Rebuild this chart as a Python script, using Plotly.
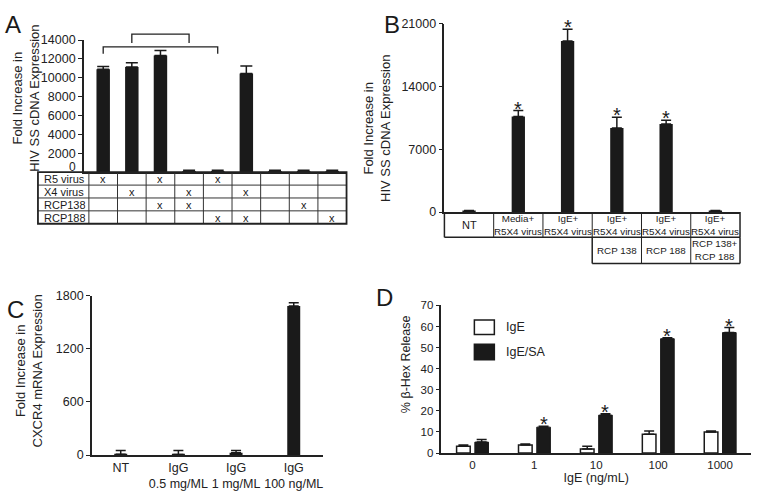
import plotly.graph_objects as go

W, H = 757, 498
FONT = "Liberation Sans"
INK = "#1a1a1a"

# ---------------- data ----------------
# Panel A
a_vals = [10900, 11150, 12350, 40, 40, 10450, 40, 40, 40]
a_err_top = [11200, 11600, 12900, 220, 220, 11250, 220, 220, 220]
a_rows = ["R5 virus", "X4 virus", "RCP138", "RCP188"]
a_marks = [
    [1, 0, 1, 0, 1, 0, 0, 0, 0],
    [0, 1, 0, 1, 0, 1, 0, 0, 0],
    [0, 0, 1, 1, 0, 0, 0, 1, 0],
    [0, 0, 0, 0, 1, 1, 0, 0, 1],
]
a_ticks = [0, 2000, 4000, 6000, 8000, 10000, 12000, 14000]
a_brackets = [(1, 3), (0, 4)]

# Panel B
b_vals = [120, 10650, 19050, 9350, 9800, 110]
b_err_top = [180, 11300, 20350, 10550, 10230, 170]
b_star = [0, 1, 1, 1, 1, 0]
b_row1 = ["NT", "Media+<br>R5X4 virus", "IgE+<br>R5X4 virus", "IgE+<br>R5X4 virus",
          "IgE+<br>R5X4 virus", "IgE+<br>R5X4 virus"]
b_row2 = ["", "", "", "RCP 138", "RCP 188", "RCP 138+<br>RCP 188"]
b_ticks = [0, 7000, 14000, 21000]

# Panel C
c_cats = ["NT", "IgG<br>0.5 mg/ML", "IgG<br>1 mg/ML", "IgG<br>100 ng/ML"]
c_vals = [8, 6, 25, 1683]
c_err_top = [50, 50, 52, 1720]
c_ticks = [0, 600, 1200, 1800]

# Panel D
d_cats = ["0", "1", "10", "100", "1000"]
d_ige = [3.2, 3.8, 2.0, 8.9, 10.0]
d_ige_top = [3.8, 4.3, 3.3, 10.5, 10.5]
d_igesa = [5.2, 12.3, 18.0, 54.2, 57.1]
d_igesa_top = [6.5, 12.7, 18.6, 54.6, 59.5]
d_star = [0, 1, 1, 1, 1]
d_ticks = [0, 10, 20, 30, 40, 50, 60, 70]

# ---------------- layout geometry (pixels) ----------------
def fx(px):
    return px / W

def fy(py):
    return 1 - py / H

# A
A_X0, A_X1, A_Y0, A_Y1 = 84, 347, 34, 170
A_COL0 = 89
A_CW = (A_X1 - A_COL0) / 9
A_LAB0 = 38
A_TB = 223
# B
B_X0, B_X1, B_Y0, B_Y1 = 445, 741, 17, 211
B_CW = (B_X1 - B_X0) / 6
B_R1, B_R2 = 237, 264
# C
C_X0, C_X1, C_Y0, C_Y1 = 92, 323, 297, 461
# D
D_X0, D_X1, D_Y0, D_Y1 = 442, 752, 307, 459

def diff(tops, vals):
    return [t - v for t, v in zip(tops, vals)]

fig = go.Figure()

err_style = dict(type="data", symmetric=False, thickness=1.5, color=INK)

fig.add_trace(go.Bar(
    x=list(range(len(a_vals))), y=a_vals, width=0.47, marker=dict(color=INK, line=dict(width=0)),
    error_y=dict(array=diff(a_err_top, a_vals), arrayminus=[0] * len(a_vals), width=6, **err_style),
    xaxis="x", yaxis="y", showlegend=False))

fig.add_trace(go.Bar(
    x=list(range(len(b_vals))), y=b_vals, width=0.27, marker=dict(color=INK, line=dict(width=0)),
    error_y=dict(array=diff(b_err_top, b_vals), arrayminus=[0] * len(b_vals), width=5, **err_style),
    xaxis="x2", yaxis="y2", showlegend=False))

fig.add_trace(go.Bar(
    x=list(range(len(c_vals))), y=c_vals, width=0.225, marker=dict(color=INK, line=dict(width=0)),
    error_y=dict(array=diff(c_err_top, c_vals), arrayminus=[0] * len(c_vals), width=5, **err_style),
    xaxis="x3", yaxis="y3", showlegend=False))

D_W = 0.22
D_OFF_W = -0.255
D_OFF_B = 0.04
fig.add_trace(go.Bar(
    x=list(range(len(d_cats))), y=d_ige, width=D_W, offset=D_OFF_W,
    marker=dict(color="white", line=dict(color=INK, width=1.5)),
    error_y=dict(array=diff(d_ige_top, d_ige), arrayminus=[0] * 5, width=5, **err_style),
    xaxis="x4", yaxis="y4", showlegend=False))
fig.add_trace(go.Bar(
    x=list(range(len(d_cats))), y=d_igesa, width=D_W, offset=D_OFF_B,
    marker=dict(color=INK, line=dict(color=INK, width=1)),
    error_y=dict(array=diff(d_igesa_top, d_igesa), arrayminus=[0] * 5, width=5, **err_style),
    xaxis="x4", yaxis="y4", showlegend=False))

tickfont = dict(family=FONT, size=12.5, color="#222")
yax = dict(showline=True, linecolor="#222", linewidth=1.5, ticks="outside", ticklen=4,
           tickwidth=1.2, tickcolor="#222", showgrid=False, zeroline=False, tickfont=tickfont)
xax = dict(showline=True, linecolor="#222", linewidth=1.5, ticks="", showgrid=False,
           zeroline=False, tickfont=tickfont)

a_lo = -0.5 - (A_COL0 - A_X0) / A_CW
# zero label of panel A is drawn separately (it sits just above the table)
a_ticktext = ["" if t == 0 else str(t) for t in a_ticks]
fig.update_layout(
    width=W, height=H, margin=dict(l=0, r=0, t=0, b=0),
    paper_bgcolor="white", plot_bgcolor="white",
    font=dict(family=FONT, color=INK),
    barmode="overlay",
    xaxis=dict(domain=[fx(A_X0), fx(A_X1)], range=[a_lo, 8.5], anchor="y",
               showticklabels=False, **xax),
    yaxis=dict(domain=[fy(A_Y1), fy(A_Y0)], range=[0, 14000], anchor="x",
               tickvals=a_ticks, ticktext=a_ticktext, **yax),
    xaxis2=dict(domain=[fx(B_X0), fx(B_X1)], range=[-0.5, 5.5], anchor="y2",
                showticklabels=False, **xax),
    yaxis2=dict(domain=[fy(B_Y1), fy(B_Y0)], range=[0, 21000], anchor="x2",
                tickvals=b_ticks, ticktext=[str(t) for t in b_ticks], **yax),
    xaxis3=dict(domain=[fx(C_X0), fx(C_X1)], range=[-0.5, 3.5], anchor="y3",
                tickvals=list(range(4)), ticktext=c_cats,
                **{**xax, "tickfont": dict(family=FONT, size=12.5, color="#222")}),
    yaxis3=dict(domain=[fy(C_Y1), fy(C_Y0)], range=[0, 1800], anchor="x3",
                tickvals=c_ticks, ticktext=[str(t) for t in c_ticks], **yax),
    xaxis4=dict(domain=[fx(D_X0), fx(D_X1)], range=[-0.5, 4.5], anchor="y4",
                tickvals=list(range(5)), ticktext=d_cats,
                title=dict(text="IgE (ng/mL)", font=dict(family=FONT, size=12.5, color="#222"),
                           standoff=2),
                **{**xax, "tickfont": dict(family=FONT, size=11.5, color="#222")}),
    yaxis4=dict(domain=[fy(D_Y1), fy(D_Y0)], range=[0, 70], anchor="x4",
                tickvals=d_ticks, ticktext=[str(t) for t in d_ticks],
                **{**yax, "tickfont": dict(family=FONT, size=11.5, color="#222")}),
)

shapes = []
ann = []

def line(x0, y0, x1, y1, w=1.0, c="#333"):
    shapes.append(dict(type="line", xref="paper", yref="paper", x0=fx(x0), y0=fy(y0),
                       x1=fx(x1), y1=fy(y1), line=dict(color=c, width=w)))

def text(x, y, s, size=11, xanchor="center", yanchor="middle", angle=0, color=INK, height=None):
    d = dict(x=fx(x), y=fy(y), xref="paper", yref="paper", text=s,
             showarrow=False, xanchor=xanchor, yanchor=yanchor, textangle=angle,
             font=dict(family=FONT, size=size, color=color))
    if height:
        d["height"] = height
    ann.append(d)

# zero label of A
text(A_X0 - 6, A_Y1 - 5, "0", size=12, xanchor="right", color="#222", height=10)

# ---- Table A ----
a_rh = (A_TB - A_Y1) / len(a_rows)
for r in range(1, len(a_rows)):
    line(A_LAB0, A_Y1 + r * a_rh, A_X1, A_Y1 + r * a_rh, 1)
for k in range(0, 9):
    line(A_COL0 + k * A_CW, A_Y1, A_COL0 + k * A_CW, A_TB, 1)
shapes.append(dict(type="rect", xref="paper", yref="paper", x0=fx(A_LAB0), x1=fx(A_X1),
                   y0=fy(A_TB), y1=fy(A_Y1), line=dict(color="#222", width=1.8)))
for r, lab in enumerate(a_rows):
    yc = A_Y1 + (r + 0.5) * a_rh
    text(A_LAB0 + 4, yc, lab, size=11, xanchor="left", height=11)
    for c, m in enumerate(a_marks[r]):
        if m:
            text(A_COL0 + (c + 0.5) * A_CW, yc, "x", size=11, height=11)

# brackets A
for (i, j), (ytop, ybot) in zip(a_brackets, [(28, 37), (41, 48)]):
    xi = A_COL0 + (i + 0.5) * A_CW
    xj = A_COL0 + (j + 0.5) * A_CW
    shapes.append(dict(type="path", xref="paper", yref="paper",
                       path=f"M {fx(xi)} {fy(ybot)} L {fx(xi)} {fy(ytop)} L {fx(xj)} {fy(ytop)} L {fx(xj)} {fy(ybot)}",
                       line=dict(color="#222", width=1.3)))

# ---- Table B ----
line(B_X0, B_R1, B_X1, B_R1, 1.5, "#222")
for k in range(0, 7):
    line(B_X0 + k * B_CW, B_Y1, B_X0 + k * B_CW, B_R1, 1.5 if k in (0, 6) else 1, "#222")
line(B_X0 + 3 * B_CW, B_R2, B_X1, B_R2, 1.5, "#222")
for k in range(3, 7):
    line(B_X0 + k * B_CW, B_R1, B_X0 + k * B_CW, B_R2, 1.5 if k in (3, 6) else 1, "#222")
for c, s in enumerate(b_row1):
    text(B_X0 + (c + 0.5) * B_CW, (B_Y1 + B_R1) / 2, s, size=11 if s == "NT" else 9.8)
for c, s in enumerate(b_row2):
    if s:
        text(B_X0 + (c + 0.5) * B_CW, (B_R1 + B_R2) / 2, s, size=9.8)

# stars B
for i, st in enumerate(b_star):
    if st:
        ann.append(dict(x=i, y=b_err_top[i], xref="x2", yref="y2", text="*", showarrow=False,
                        yanchor="bottom", yshift=-11, font=dict(family=FONT, size=20, color=INK)))
# stars D
for i, st in enumerate(d_star):
    if st:
        ann.append(dict(x=i + D_OFF_B + D_W / 2, y=d_igesa_top[i], xref="x4", yref="y4", text="*",
                        showarrow=False, yanchor="bottom", yshift=-11,
                        font=dict(family=FONT, size=20, color=INK)))

# legend D
shapes.append(dict(type="rect", xref="paper", yref="paper", x0=fx(475), x1=fx(495), y0=fy(337), y1=fy(322),
                   line=dict(color=INK, width=1.5), fillcolor="white"))
shapes.append(dict(type="rect", xref="paper", yref="paper", x0=fx(475), x1=fx(495), y0=fy(363), y1=fy(347),
                   line=dict(color=INK, width=1.5), fillcolor=INK))
text(505, 329.5, "IgE", size=12.5, xanchor="left", color="#222")
text(505, 355, "IgE/SA", size=12.5, xanchor="left", color="#222")

# axis titles
text(26.5, 94, "Fold Increase in<br>HIV SS cDNA Expression", size=13, angle=-90, color="#222")
text(378, 125, "Fold Increase in<br>HIV SS cDNA Expression", size=13, angle=-90, color="#222")
text(30, 374, "Fold Increase in<br>CXCR4 mRNA Expression", size=13, angle=-90, color="#222")
text(406, 367, "% β-Hex Release", size=12.5, angle=-90, color="#222")

# panel letters
for lab, (x, y) in zip(["A", "B", "C", "D"], [(13, 18), (393, 18), (16, 311), (385, 299)]):
    text(x, y, lab, size=24, color=INK)

fig.update_layout(shapes=shapes, annotations=ann)

fig.write_html("out.html", config={"displayModeBar": False},
               post_script="document.body.style.margin='0';")
